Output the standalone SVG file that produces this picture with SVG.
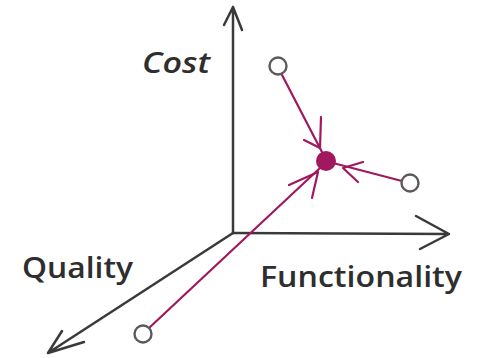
<svg xmlns="http://www.w3.org/2000/svg" width="477" height="358" viewBox="0 0 477 358">
<style>
.axis{stroke:#3a3a3a;stroke-width:2.5;fill:none;stroke-linecap:round;stroke-linejoin:round}
.conn{stroke:#a0185d;stroke-width:2.2;fill:none;stroke-linecap:round;stroke-linejoin:round}
.open{fill:#fff;stroke:#5a5a5a;stroke-width:2.4}
.lbl{font-family:"Open Sans","DejaVu Sans",sans-serif;fill:#2e2e2e;font-size:28px;font-weight:600}
</style>
<rect width="477" height="358" fill="#fff"/>
<g id="axes">
<path class="axis" d="M233,233 L233,7 M224,25 L233,7 L242,30"/>
<path class="axis" d="M233,233 L449,234 M416,216 L449,234 L420,249"/>
<path class="axis" d="M233,233 L48,353 M62,331 L48,353 L84,342"/>
</g>
<g id="labels">
<text class="lbl" x="142" y="73" font-style="italic" textLength="68" lengthAdjust="spacingAndGlyphs">Cost</text>
<text class="lbl" x="22" y="278" textLength="111" lengthAdjust="spacingAndGlyphs">Quality</text>
<text class="lbl" x="260" y="287" textLength="202" lengthAdjust="spacingAndGlyphs">Functionality</text>
</g>
<g id="connectors">
<path class="conn" d="M281,73 L323,154"/>
<path class="conn" d="M321,117 L320,148 M304,140 L320,148"/>
<path class="conn" d="M402,181 L333,163"/>
<path class="conn" d="M363,162 L343,168 L358,182"/>
<path class="conn" d="M149,328 L320,168"/>
<path class="conn" d="M289,185 L318,172 L312,198"/>
</g>
<g id="node-top"><circle class="open" cx="278" cy="66" r="8.5"/></g>
<g id="node-right"><circle class="open" cx="410" cy="183" r="8.5"/></g>
<g id="node-bottom"><circle class="open" cx="143" cy="334" r="8.5"/></g>
<g id="node-center"><circle cx="326" cy="161" r="10" fill="#a0185d"/></g>
</svg>
